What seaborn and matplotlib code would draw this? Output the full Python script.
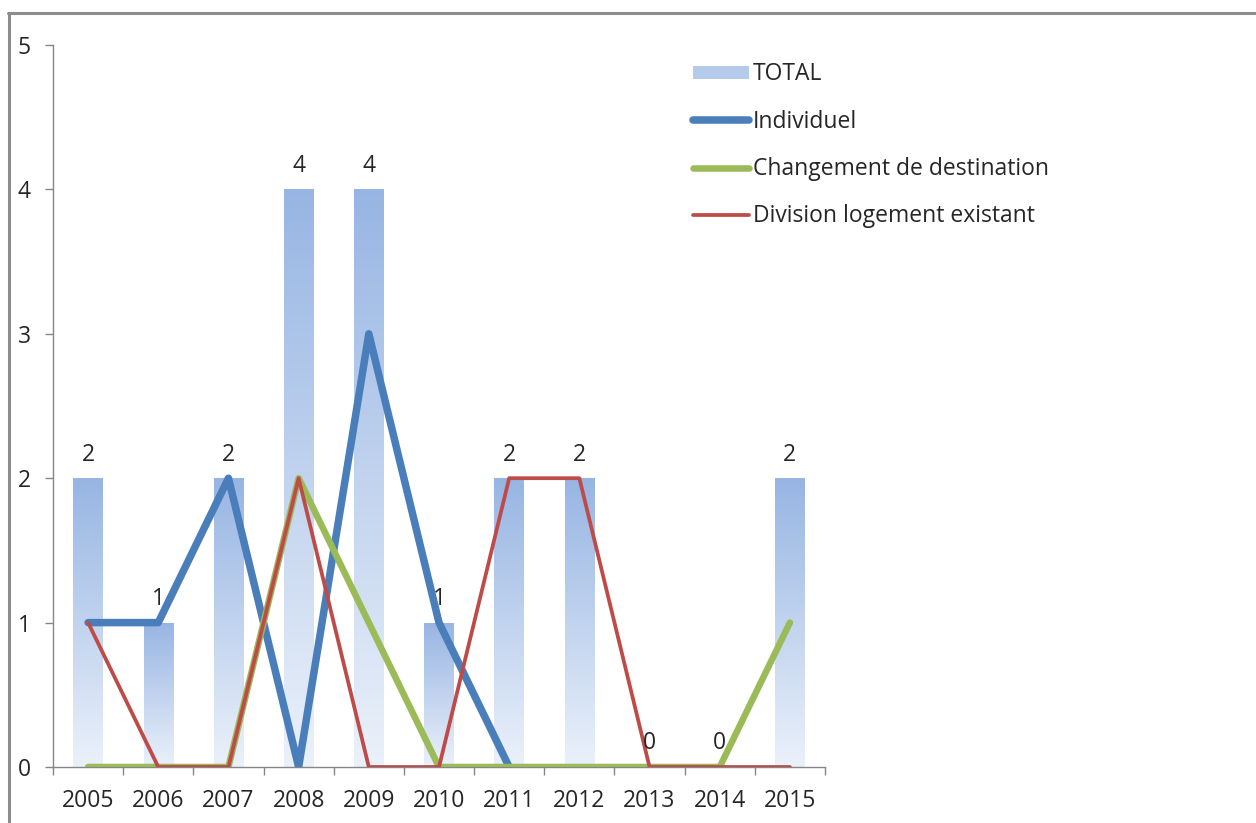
import numpy as np
import pandas as pd
import matplotlib
matplotlib.use("Agg")
import matplotlib.pyplot as plt
from matplotlib.lines import Line2D
from matplotlib.patches import Patch
from matplotlib.colors import LinearSegmentedColormap
import seaborn as sns

years = ["2005", "2006", "2007", "2008", "2009", "2010", "2011", "2012", "2013", "2014", "2015"]
total = [2, 1, 2, 4, 4, 1, 2, 2, 0, 0, 2]
individuel = [1, 1, 2, 0, 3, 1, 0, None, None, None, None]
changement = [0, 0, 0, 2, 1, 0, 0, 0, 0, 0, 1]
division = [1, 0, 0, 2, 0, 0, 2, 2, 0, 0, 0]

series_names = ["Individuel", "Changement de destination", "Division logement existant"]
series_colors = ["#4a7ebb", "#9bbb59", "#be4b48"]
series_widths = [5.4, 4.7, 2.7]

sns.set_theme(style="white")
plt.rcParams["font.family"] = ["Open Sans", "DejaVu Sans"]
FS = 16.5

fig = plt.figure(figsize=(12.56, 8.23), dpi=100)
ax = fig.add_axes([53 / 1256, 1 - 767 / 823, (825 - 53) / 1256, (767 - 45) / 823])

bars_df = pd.DataFrame({"year": years, "total": total})
sns.barplot(data=bars_df, x="year", y="total", width=0.42, color="#97b5e3",
            ax=ax, zorder=1, saturation=1)

# vertical gradient fill inside each bar
grad = LinearSegmentedColormap.from_list("bar_grad", ["#ebf1fa", "#97b5e3"])
gimg = np.linspace(0, 1, 256).reshape(-1, 1)
for patch in list(ax.patches):
    x0, y0 = patch.get_x(), patch.get_y()
    w, h = patch.get_width(), patch.get_height()
    patch.set_facecolor("none")
    patch.set_edgecolor("none")
    if h <= 0:
        continue
    im = ax.imshow(gimg, cmap=grad, origin="lower", aspect="auto",
                   extent=[x0, x0 + w, 0, h], zorder=1, interpolation="bilinear")
    im.set_clip_path(patch)

# line series over the categorical positions
xpos = np.arange(len(years))
for name, vals, col, lw in zip(series_names, [individuel, changement, division],
                               series_colors, series_widths):
    yvals = np.array([np.nan if v is None else v for v in vals], dtype=float)
    ax.plot(xpos, yvals, color=col, linewidth=lw, zorder=3,
            solid_capstyle="round", solid_joinstyle="round")

# value labels above bars
for i, v in enumerate(total):
    ax.text(i, v + 0.08, str(v), ha="center", va="bottom", fontsize=FS,
            color="#262626", zorder=4)

ax.set_xlim(-0.5, len(years) - 0.5)
ax.set_ylim(0, 5)
ax.set_yticks(range(0, 6))
ax.set_xlabel("")
ax.set_ylabel("")
for s in ["top", "right"]:
    ax.spines[s].set_visible(False)
for s in ["left", "bottom"]:
    ax.spines[s].set_color("#868686")
    ax.spines[s].set_linewidth(1.0)

ax.set_xticks(xpos)
ax.set_xticklabels(years)
ax.set_xticks(np.arange(-0.5, len(years)), minor=True)
ax.tick_params(axis="x", which="major", length=0, pad=16, labelsize=FS, colors="#262626")
ax.tick_params(axis="x", which="minor", length=6, width=1, color="#868686", bottom=True)
ax.tick_params(axis="y", which="major", length=6, width=1, color="#868686", left=True,
               pad=10, labelsize=FS, labelcolor="#262626")

handles = [Patch(facecolor="#b5cbeb", edgecolor="none")] + [
    Line2D([0], [0], color=c, linewidth=lw, solid_capstyle="round")
    for c, lw in zip(series_colors, series_widths)
]
labels = ["TOTAL"] + series_names
fig.legend(handles, labels, loc="upper left", bbox_to_anchor=(684 / 1256, 1 - 53 / 823),
           frameon=False, fontsize=FS, handlelength=2.45, handleheight=0.5,
           handletextpad=0.15, labelspacing=1.02, borderaxespad=0)

# outer chart frame
fig.add_artist(Line2D([8 / 1256, 1.0], [1 - 13 / 823, 1 - 13 / 823], transform=fig.transFigure,
                      color="#8c8c8c", linewidth=2.2))
fig.add_artist(Line2D([9 / 1256, 9 / 1256], [0, 1 - 13 / 823], transform=fig.transFigure,
                      color="#8c8c8c", linewidth=2.2))

fig.savefig("out.png", dpi=100, facecolor="white")
